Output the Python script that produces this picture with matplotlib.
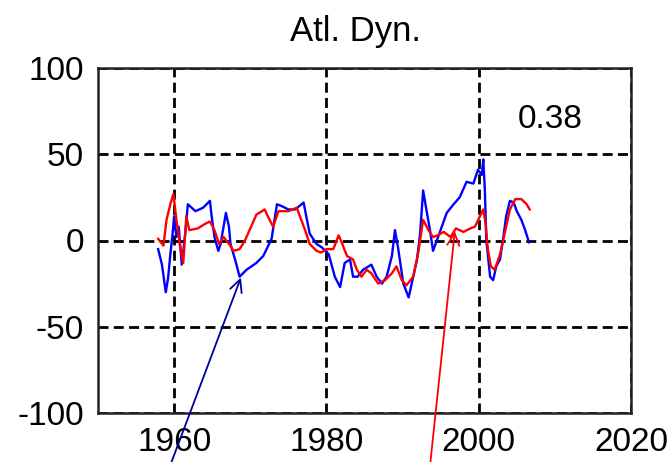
import matplotlib
matplotlib.use("Agg")
import matplotlib.pyplot as plt

# Blue series: dynamic Atlantic index (vertices, fractional years)
blue_year = [1957.9, 1958.4, 1958.9, 1959.2, 1959.5, 1959.8, 1960.0, 1960.3, 1960.6,
             1961.0, 1961.5, 1961.8, 1962.8, 1963.8, 1964.7, 1964.9, 1965.3, 1965.8,
             1966.1, 1966.8, 1967.2, 1967.4, 1968.0, 1968.6, 1969.5, 1970.8, 1971.7,
             1972.8, 1973.5, 1974.1, 1975.0, 1975.9, 1977.0, 1977.8, 1978.7, 1979.4,
             1980.3, 1981.1, 1981.8, 1982.4, 1983.1, 1983.5, 1984.1, 1984.8, 1985.9,
             1986.6, 1987.3, 1987.9, 1988.6, 1989.0, 1989.4, 1990.1, 1990.8, 1991.9,
             1992.3, 1992.7, 1993.2, 1993.6, 1994.0, 1994.5, 1995.8, 1996.7, 1997.5,
             1998.4, 1999.3, 1999.9, 2000.4, 2000.6, 2000.8, 2001.0, 2001.5, 2001.9,
             2002.3, 2002.8, 2003.3, 2003.6, 2004.1, 2004.6, 2005.0, 2005.6, 2006.1,
             2006.6]
blue_val = [-5, -14, -30, -22, -8, 4, 14, 2, 8,
            -14, 6, 21, 17, 19, 23, 15, 2, -6,
            -2, 16, 8, -2, -11, -21, -17, -13, -9,
            1, 21, 20, 18, 18, 22, 4, -2, -4,
            -8, -21, -27, -13, -11, -21, -21, -17, -14,
            -21, -25, -21, -9, 6, -4, -25, -33, -11,
            4, 29, 16, 6, -6, 0, 16, 21, 25,
            34, 33, 41, 38, 47, 30, 0, -21, -23,
            -15, -11, 4, 14, 23, 22, 17, 12, 6,
            -1]

# Red series
red_year = [1957.9, 1958.6, 1959.0, 1959.5, 1959.9, 1960.3, 1960.8, 1961.2, 1961.6,
            1962.0, 1963.1, 1964.2, 1964.7, 1965.3, 1965.9, 1966.5, 1967.2, 1967.8,
            1968.6, 1969.3, 1970.0, 1970.8, 1971.9, 1972.3, 1973.0, 1973.7, 1975.0,
            1976.1, 1977.2, 1977.8, 1978.7, 1979.3, 1980.0, 1980.9, 1981.6, 1981.9,
            1982.7, 1983.5, 1984.0, 1984.6, 1985.3, 1985.9, 1986.8, 1987.7, 1988.6,
            1989.2, 1989.9, 1990.5, 1991.4, 1992.1, 1992.7, 1993.4, 1994.0, 1994.6,
            1995.4, 1996.3, 1997.0, 1998.0, 1998.9, 1999.5, 2000.6, 2000.9, 2001.2,
            2001.6, 2002.1, 2002.8, 2003.5, 2004.1, 2004.8, 2005.6, 2006.3, 2006.7]
red_val = [1, -3, 12, 21, 27, 12, -4, -13, 14,
           6, 7, 10, 11, 6, -2, 2, -2, -6,
           -5, 0, 7, 15, 18, 14, 8, 17, 17,
           19, 6, -2, -6, -7, -5, -5, 3, 0,
           -9, -11, -17, -21, -17, -19, -25, -23, -19,
           -15, -23, -26, -21, -6, 12, 6, 2, 3,
           5, 2, 7, 5, 7, 8, 18, 10, -5,
           -15, -17, -8, 6, 18, 24, 24, 21, 18]

corr_label = "0.38"
xticks = [1960, 1980, 2000, 2020]
yticks = [-100, -50, 0, 50, 100]

plt.rcParams["font.family"] = ["Liberation Sans", "DejaVu Sans"]
plt.rcParams["axes.unicode_minus"] = False
fs = 24

fig = plt.figure(figsize=(6.72, 4.62), dpi=100)
ax = fig.add_axes([98 / 672, 49 / 462, 533 / 672, 345 / 462])

ax.plot(blue_year, blue_val, color="#0000ff", lw=1.7)
ax.plot(red_year, red_val, color="#ff0000", lw=1.7)

ax.set_xlim(1950, 2020)
ax.set_ylim(-100, 100)
ax.set_xticks(xticks)
ax.set_yticks(yticks)
ax.tick_params(length=0, labelsize=fs, pad=10)
ax.grid(True, color="black", ls=(0, (3.6, 1.9)), lw=2)
for s in ax.spines.values():
    s.set_linewidth(1.8)
    s.set_color("#222222")

ax.text(2009.4, 70, corr_label, ha="center", va="center", fontsize=fs)
fig.text(355 / 672, 1 - 32 / 462, "Atl. Dyn.", ha="center", va="center", fontsize=25)

# arrows pointing into each curve from below the frame
ax.annotate("", xy=(1968.9, -20), xytext=(170, -4), textcoords="figure pixels",
            arrowprops=dict(arrowstyle="->", color="#00009a", lw=1.3,
                            mutation_scale=22), annotation_clip=False)
ax.annotate("", xy=(1996.9, 7), xytext=(430, -4), textcoords="figure pixels",
            arrowprops=dict(arrowstyle="->", color="#ff0000", lw=1.3,
                            mutation_scale=22), annotation_clip=False)

fig.savefig("out.png", dpi=100)
